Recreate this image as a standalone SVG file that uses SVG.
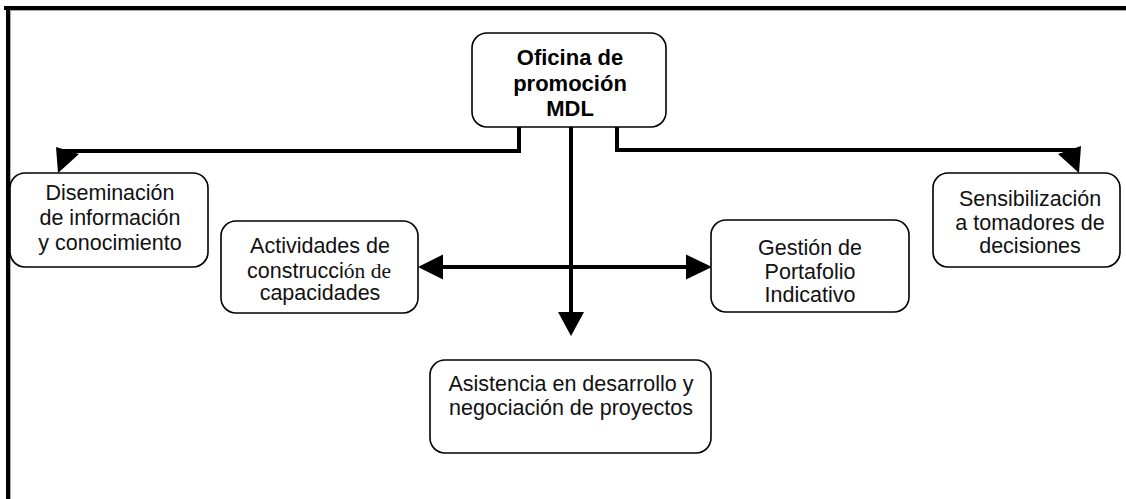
<svg xmlns="http://www.w3.org/2000/svg" width="1126" height="499" viewBox="0 0 1126 499">
<style>
.box{fill:#fff;stroke:#000;stroke-width:1.6}
.t{font-family:"Liberation Sans",Arial,sans-serif;font-size:21.5px;fill:#111;text-anchor:middle}
.b{font-weight:bold;font-size:22px;fill:#000}
.serif{font-family:"Liberation Serif","Times New Roman",serif}
.ln{stroke:#000;stroke-width:4;fill:none}
.ah{fill:#000}
</style>
<rect width="1126" height="499" fill="#fff"/>
<g id="frame">
<line x1="4" y1="8" x2="1126" y2="8" stroke="#000" stroke-width="4"/>
<line x1="10" y1="10.5" x2="1126" y2="10.5" stroke="#aaa" stroke-width="1"/>
<line x1="8" y1="6" x2="8" y2="499" stroke="#000" stroke-width="4"/>
<line x1="10.5" y1="10" x2="10.5" y2="499" stroke="#aaa" stroke-width="1"/>
</g>
<g id="connectors">
<polyline class="ln" points="519,127 519,151 58,151"/>
<polygon class="ah" points="56,147 79,154 58,173"/>
<polyline class="ln" points="617,127 617,150 1078,150"/>
<polygon class="ah" points="1058,154 1081,146 1079,173"/>
<line class="ln" x1="571" y1="127" x2="571" y2="315"/>
<polygon class="ah" points="558,312 584,312 571,336"/>
<line class="ln" x1="440" y1="267" x2="690" y2="267"/>
<polygon class="ah" points="418,267 443,254.5 443,279.5"/>
<polygon class="ah" points="712,267 686,254.5 686,279.5"/>
</g>
<g id="oficina">
<rect class="box" x="472" y="33" width="194" height="94" rx="15"/>
<text class="t b" x="570" y="65">Oficina de</text>
<text class="t b" x="570" y="91">promoción</text>
<text class="t b" x="570" y="116">MDL</text>
</g>
<g id="diseminacion">
<rect class="box" x="10" y="173" width="198" height="94" rx="15"/>
<text class="t" x="110" y="200">Diseminación</text>
<text class="t" x="110" y="225">de información</text>
<text class="t" x="110" y="250">y conocimiento</text>
</g>
<g id="sensibilizacion">
<rect class="box" x="933" y="173" width="187" height="94" rx="15"/>
<text class="t" x="1030" y="206">Sensibilización</text>
<text class="t" x="1030" y="230">a tomadores de</text>
<text class="t" x="1030" y="253">decisiones</text>
</g>
<g id="actividades">
<rect class="box" x="221" y="221" width="197" height="92" rx="15"/>
<text class="t" x="320" y="253">Actividades de</text>
<text class="t" x="319" y="278">construcci<tspan class="serif">ón de</tspan></text>
<text class="t" x="320" y="300">capacidades</text>
</g>
<g id="gestion">
<rect class="box" x="711" y="220" width="198" height="92" rx="15"/>
<text class="t" x="810" y="255">Gestión de</text>
<text class="t" x="810" y="279">Portafolio</text>
<text class="t" x="810" y="302">Indicativo</text>
</g>
<g id="asistencia">
<rect class="box" x="430" y="360" width="281" height="93" rx="15"/>
<text class="t" x="571" y="391">Asistencia en desarrollo y</text>
<text class="t" x="571" y="415">negociación de proyectos</text>
</g>
</svg>
